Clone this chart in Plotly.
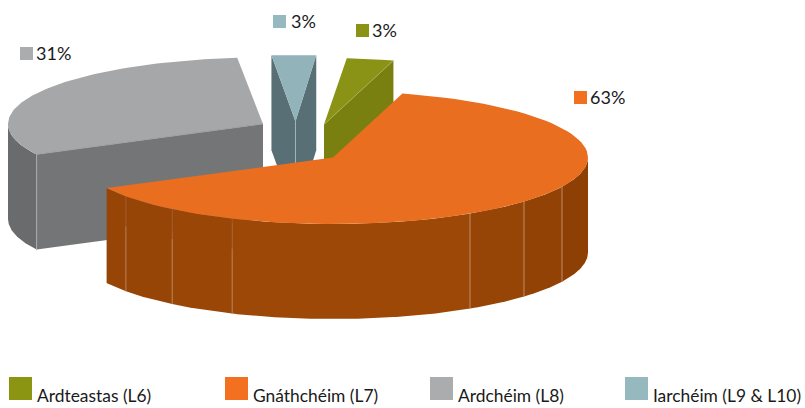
import numpy as np
import plotly.graph_objects as go

categories = ["Ardteastas (L6)", "Gnáthchéim (L7)", "Ardchéim (L8)", "Iarchéim (L9 & L10)"]
values = [3, 63, 31, 3]
value_labels = ["3%", "63%", "31%", "3%"]

START_DEG = 85.0
RX, RY, DEPTH = 255.0, 66.5, 95.0
# exploded slice centres, in pixel-space axis units
centres = {0: (324, 124.5), 1: (333, 157.5), 2: (263, 124), 3: (295.5, 121.5)}
top_col = ["#8B9316", "#E96E1F", "#A6A7A9", "#92B3B9"]
key_col = ["#8B9511", "#F47021", "#ABACAE", "#96B9BF"]
label_pos = [(356, 30.5), (574, 97.5), (20, 53.5), (273, 21.5)]
label_text_x = [372, 590, 36, 291]
legend_x = [9, 225, 430, 625]

FONT = "Lato"
fig = go.Figure()


def poly(xs, ys, color):
    fig.add_trace(go.Scatter(x=list(xs), y=list(ys), mode="lines", fill="toself", fillcolor=color,
                             line=dict(width=0, color=color), hoverinfo="skip", showlegend=False))


def seg(x0, y0, x1, y1, color, w=1):
    fig.add_trace(go.Scatter(x=[x0, x1], y=[y0, y1], mode="lines", line=dict(width=w, color=color),
                             hoverinfo="skip", showlegend=False))


def pt(c, deg, rx=RX):
    t = np.radians(deg)
    return c[0] + rx * np.cos(t), c[1] - RY * np.sin(t)


def arc(c, a0, a1, rx=RX):
    t = np.radians(np.linspace(a0, a1, 90))
    return c[0] + rx * np.cos(t), c[1] - RY * np.sin(t)


def wall(c, a0, a1, color, rx=RX):
    x, y = arc(c, a0, a1, rx)
    poly(np.r_[x, x[::-1]], np.r_[y, y[::-1] + DEPTH], color)


def cut_face(c, deg, color, rx=RX):
    x, y = pt(c, deg, rx)
    poly([c[0], x, x, c[0]], [c[1], y, y + DEPTH, c[1] + DEPTH], color)


def top(c, a0, a1, color, rx=RX):
    x, y = arc(c, a0, a1, rx)
    poly(np.r_[c[0], x], np.r_[c[1], y], color)


# slice angle ranges, clockwise from the start angle
edges = START_DEG - np.r_[0, np.cumsum(values)] * 360.0 / sum(values)
spans = [(edges[i], edges[i + 1]) for i in range(4)]

# Ardchéim (grey)
a0, a1 = spans[2]
c = centres[2]
a1 = a1 % 360
a0 = a0 % 360
wall(c, 180, a0, "#6A6B6D")
cut_face(c, a0, "#747577")
px, py = pt(c, a0)
seg(px, py, px, py + DEPTH, "#A9AAAC")
top(c, a0, a1, top_col[2])
seg(px, py, c[0], c[1], "#8E8F91", 0.6)

# Iarchéim (teal)
a0, a1 = spans[3]
c = centres[3]
TEAL_RX = 238
cut_face(c, a0 % 360, "#586F76", TEAL_RX)
cut_face(c, a1, "#586F76", TEAL_RX)
seg(c[0], c[1], c[0], c[1] + DEPTH, "#9DB4B9")
top(c, a0, a1, top_col[3], TEAL_RX)

# Ardteastas (green)
a0, a1 = spans[0]
c = centres[0]
cut_face(c, a1, "#7A8010")
top(c, a0, a1, top_col[0])
px, py = pt(c, a1)
seg(c[0], c[1], px, py, "#A9AE55", 0.8)

# Gnáthchéim (orange) with its wall facets
a0, a1 = spans[1]
c = centres[1]
start = a1 % 360
facet_edges = [start, 215.7, 230.9, 246.7, 302.5, 318.5, 333.9, 360.0]
facet_cols = ["#964507", "#974507", "#994607", "#9E4808", "#974507", "#934205", "#8E3F03"]
for i, col in enumerate(facet_cols):
    wall(c, facet_edges[i], facet_edges[i + 1], col)
for i, d in enumerate(facet_edges[1:-1]):
    x, y = pt(c, d)
    if i < 3:
        seg(x, y, x, y + 30, "#A86030", 0.8)
        seg(x, y + 30, x, y + DEPTH, "#B67F55", 1)
    else:
        seg(x, y, x, y + DEPTH, "#BD8C66", 1)
top(c, a0, a1, top_col[1])

# value labels with colour keys
fig.add_trace(go.Scatter(
    x=[p[0] + 6.5 for p in label_pos], y=[p[1] for p in label_pos], mode="markers",
    marker=dict(symbol="square", size=13, color=[top_col[0], key_col[1], key_col[2], key_col[3]], line=dict(width=0)),
    hoverinfo="skip", showlegend=False,
))

# legend
shapes = [dict(type="rect", x0=x, x1=x + 23, y0=377, y1=400, fillcolor=key_col[i], line=dict(width=0))
          for i, x in enumerate(legend_x)]
annotations = [dict(x=x + 27, y=395, text=categories[i], showarrow=False, xanchor="left", yanchor="middle",
                    xshift=-1, font=dict(family=FONT, size=17.4, color="#1a1a1a"))
               for i, x in enumerate(legend_x)]
annotations += [dict(x=label_text_x[i], y=label_pos[i][1] - 1, text=value_labels[i], showarrow=False,
                     xanchor="left", yanchor="middle", xshift=-2,
                     font=dict(family=FONT, size=18, color="#1a1a1a"))
                for i in range(4)]

fig.update_layout(
    width=805, height=408, margin=dict(l=0, r=0, t=0, b=0), paper_bgcolor="white", plot_bgcolor="white",
    xaxis=dict(range=[0, 805], visible=False, fixedrange=True),
    yaxis=dict(range=[408, 0], visible=False, fixedrange=True),
    shapes=shapes, annotations=annotations, showlegend=False,
)
fig.write_html("out.html", config=dict(displayModeBar=False),
               post_script="document.body.style.margin='0';document.body.style.overflow='hidden';")
